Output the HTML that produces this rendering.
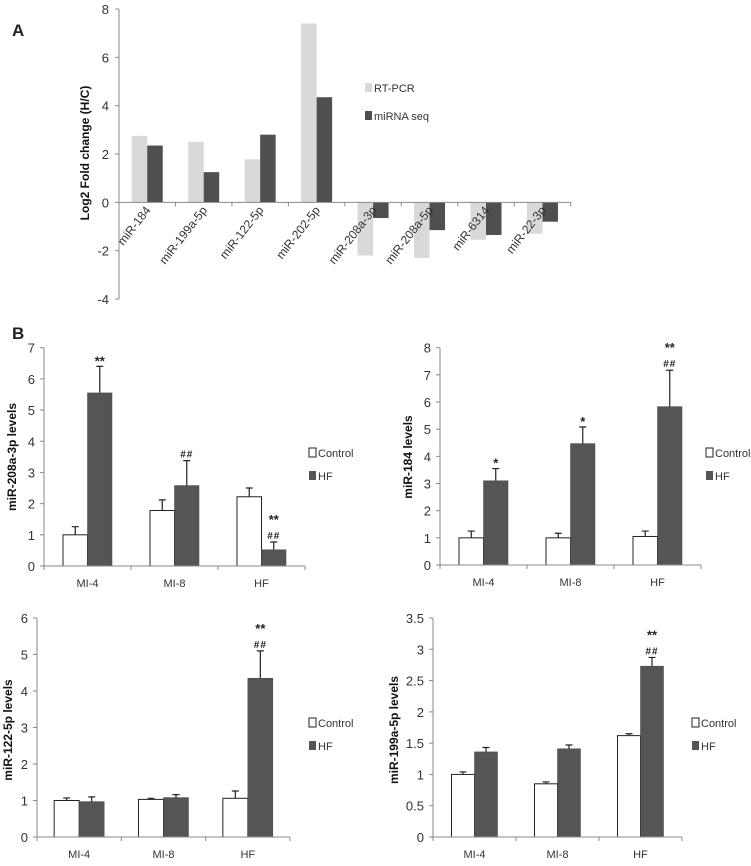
<!DOCTYPE html>
<html><head><meta charset="utf-8"><style>
html,body{margin:0;padding:0;background:#fff}
svg text{font-family:"Liberation Sans",sans-serif}
</style></head><body>
<svg id="fig" width="751" height="861" viewBox="0 0 751 861" xmlns="http://www.w3.org/2000/svg"></svg>
<script>
// Panel A data
const aCategories = ["miR-184","miR-199a-5p","miR-122-5p","miR-202-5p","miR-208a-3p","miR-208a-5p","miR-6314","miR-22-3p"];
const aRtpcr = [2.75, 2.5, 1.78, 7.4, -2.2, -2.3, -1.55, -1.3];
const aSeq = [2.35, 1.25, 2.8, 4.35, -0.65, -1.15, -1.35, -0.8];
const aTicks = [8, 6, 4, 2, 0, -2, -4];

// Panel B data
const bCategories = ["MI-4","MI-8","HF"];
const b1Control = [1.0, 1.78, 2.22];
const b1ControlErr = [0.26, 0.34, 0.28];
const b1HF = [5.55, 2.58, 0.52];
const b1HFErr = [0.85, 0.8, 0.25];
const b1Ticks = [0,1,2,3,4,5,6,7];
const b1Notes = [["**"],["##"],["**","##"]];

const b2Control = [1.0, 1.0, 1.05];
const b2ControlErr = [0.25, 0.17, 0.2];
const b2HF = [3.1, 4.47, 5.83];
const b2HFErr = [0.45, 0.61, 1.34];
const b2Ticks = [0,1,2,3,4,5,6,7,8];
const b2Notes = [["*"],["*"],["**","##"]];

const b3Control = [1.0, 1.03, 1.06];
const b3ControlErr = [0.07, 0.03, 0.2];
const b3HF = [0.97, 1.08, 4.35];
const b3HFErr = [0.13, 0.08, 0.75];
const b3Ticks = [0,1,2,3,4,5,6];
const b3Notes = [[],[],["**","##"]];

const b4Control = [1.0, 0.85, 1.62];
const b4ControlErr = [0.04, 0.03, 0.03];
const b4HF = [1.36, 1.41, 2.73];
const b4HFErr = [0.07, 0.06, 0.14];
const b4Ticks = [0,0.5,1,1.5,2,2.5,3,3.5];
const b4Notes = [[],[],["**","##"]];

const svg = document.getElementById('fig');
const NS = "http://www.w3.org/2000/svg";
function mk(tag, attrs, parent, text){
  const e = document.createElementNS(NS, tag);
  for (const k in attrs) e.setAttribute(k, attrs[k]);
  if (text !== undefined) e.textContent = text;
  (parent||svg).appendChild(e);
  return e;
}
const AX = "#8a8a8a";

// ---------- Panel A ----------
(function(){
  const g = mk('g', {});
  
  
  const x0 = 119, x1 = 570.7, yMax = 8, yMin = -4, pTop = 9, pBot = 299;
  const y = v => pTop + (yMax - v) * (pBot - pTop) / (yMax - yMin);
  const band = (x1 - x0) / aCategories.length;
  const bw = 15.5, pad = (band - 2*bw)/2;
  const lab = mk('text', {x:12, y:36, 'font-size':17, 'font-weight':'bold', fill:'#222'}, g, 'A');
  
  
  aCategories.forEach((c, i) => {
    const bx = x0 + i*band + pad;
    const v1 = aRtpcr[i], v2 = aSeq[i];
    const r1 = mk('rect', {x:bx, y:Math.min(y(v1), y(0)), width:bw, height:Math.abs(y(v1)-y(0)), fill:'#d9d9d9'}, g);
    
    
    const r2 = mk('rect', {x:bx+bw, y:Math.min(y(v2), y(0)), width:bw, height:Math.abs(y(v2)-y(0)), fill:'#4f4f4f'}, g);
    
    
  });
  const ya = mk('line', {x1:x0, y1:pTop, x2:x0, y2:pBot, stroke:AX, 'stroke-width':1}, g);
  
  
  aTicks.forEach(t => {
    mk('line', {x1:x0-4, y1:y(t), x2:x0, y2:y(t), stroke:AX}, g);
    const tl = mk('text', {x:x0-10, y:y(t)+5, 'font-size':13, 'text-anchor':'end', fill:'#333'}, g, String(t));
    
    
  });
  const xa = mk('line', {x1:x0, y1:y(0), x2:x1, y2:y(0), stroke:AX}, g);
  
  
  for (let i=0;i<=aCategories.length;i++){
    mk('line', {x1:x0+i*band, y1:y(0), x2:x0+i*band, y2:y(0)+4, stroke:AX}, g);
  }
  aCategories.forEach((c, i) => {
    const cx = x0 + i*band + band/2 + 4, cy = y(0) + 8;
    const t = mk('text', {x:cx, y:cy, 'font-size':12, 'text-anchor':'end', fill:'#333', transform:`rotate(-52 ${cx} ${cy})`}, g, c);
    
    
  });
  const yt = mk('text', {x:0, y:0, 'font-size':12, 'font-weight':'bold', 'text-anchor':'middle', fill:'#111', transform:'translate(89 153) rotate(-90)'}, g, 'Log2 Fold change (H/C)');
  
  
  const l1 = mk('rect', {x:365, y:83, width:7, height:9, fill:'#d9d9d9'}, g);
  
  
  const lt1 = mk('text', {x:374, y:92, 'font-size':11, fill:'#333'}, g, 'RT-PCR');
  
  
  const l2 = mk('rect', {x:365, y:111, width:7, height:9, fill:'#4f4f4f'}, g);
  
  
  const lt2 = mk('text', {x:374, y:120, 'font-size':11, fill:'#333'}, g, 'miRNA seq');
  
  
})();

// ---------- Panel B charts ----------
function drawB(cfg){
  const g = mk('g', {});
  
  
  const maxT = cfg.ticks[cfg.ticks.length-1];
  const y = v => cfg.yZero - v * (cfg.yZero - cfg.yTop) / maxT;
  const band = (cfg.x1 - cfg.x0) / bCategories.length;
  const bw = cfg.bw, pad = (band - 2*bw)/2;
  bCategories.forEach((c, i) => {
    const bx = cfg.x0 + i*band + pad;
    const vc = cfg.control[i], vh = cfg.hf[i];
    const ec = mk('path', {d:`M${bx+bw/2} ${y(vc)} V${y(vc+cfg.controlErr[i])} M${bx+bw/2-3.5} ${y(vc+cfg.controlErr[i])} H${bx+bw/2+3.5}`, stroke:'#222', 'stroke-width':1.2, fill:'none'}, g);
    
    
    const eh = mk('path', {d:`M${bx+1.5*bw} ${y(vh)} V${y(vh+cfg.hfErr[i])} M${bx+1.5*bw-3.5} ${y(vh+cfg.hfErr[i])} H${bx+1.5*bw+3.5}`, stroke:'#222', 'stroke-width':1.2, fill:'none'}, g);
    
    
    const rc = mk('rect', {x:bx, y:y(vc), width:bw, height:y(0)-y(vc), fill:'#fff', stroke:'#222', 'stroke-width':1}, g);
    
    
    const rh = mk('rect', {x:bx+bw, y:y(vh), width:bw, height:y(0)-y(vh), fill:'#555', stroke:'#444', 'stroke-width':0.5}, g);
    
    
    const top = y(vh + cfg.hfErr[i]);
    cfg.notes[i].forEach((n, k, arr) => {
      const off = (arr.length - k) * 17 - 4;
      const isHash = n.indexOf('#') >= 0;
      const t = mk('text', {x:bx+1.5*bw, y:top - off + (isHash?10:12), 'font-size':isHash?10:13, 'font-weight':'bold', 'text-anchor':'middle', fill:'#222', 'letter-spacing':isHash?1:0}, g, n);
      
      
    });
  });
  const ya = mk('line', {x1:cfg.x0, y1:cfg.yTop, x2:cfg.x0, y2:y(0), stroke:AX}, g);
  
  
  cfg.ticks.forEach(t => {
    mk('line', {x1:cfg.x0-4, y1:y(t), x2:cfg.x0, y2:y(t), stroke:AX}, g);
    const tl = mk('text', {x:cfg.x0-9, y:y(t)+5, 'font-size':13, 'text-anchor':'end', fill:'#333'}, g, String(t));
    
    
  });
  const xa = mk('line', {x1:cfg.x0, y1:y(0), x2:cfg.x1, y2:y(0), stroke:AX}, g);
  
  
  for (let i=0;i<=bCategories.length;i++) mk('line', {x1:cfg.x0+i*band, y1:y(0), x2:cfg.x0+i*band, y2:y(0)+4, stroke:AX}, g);
  bCategories.forEach((c, i) => {
    const t = mk('text', {x:cfg.x0+i*band+band/2, y:y(0)+21, 'font-size':11, 'text-anchor':'middle', fill:'#333'}, g, c);
    
    
  });
  const yt = mk('text', {x:0, y:0, 'font-size':12, 'font-weight':'bold', 'text-anchor':'middle', fill:'#111', transform:`translate(${cfg.titleX} ${cfg.titleY}) rotate(-90)`}, g, cfg.title);
  
  
  const lc = mk('rect', {x:cfg.legX, y:cfg.legY-5, width:7, height:9, fill:'#fff', stroke:'#222'}, g);
  
  
  const ltc = mk('text', {x:cfg.legX+9, y:cfg.legY+4, 'font-size':11, fill:'#333'}, g, 'Control');
  
  
  const lh = mk('rect', {x:cfg.legX, y:cfg.legY+18, width:7, height:9, fill:'#555'}, g);
  
  
  const lth = mk('text', {x:cfg.legX+9, y:cfg.legY+27, 'font-size':11, fill:'#333'}, g, 'HF');
  
  
}

const bl = mk('text', {x:12, y:339, 'font-size':17, 'font-weight':'bold', fill:'#222'}, svg, 'B');



drawB({name:'chart-mir-208a-3p', x0:44, x1:305, yTop:347.7, yZero:566, bw:24.5, ticks:b1Ticks,
  control:b1Control, controlErr:b1ControlErr, hf:b1HF, hfErr:b1HFErr, notes:b1Notes,
  title:'miR-208a-3p levels', titleX:16, titleY:457, legX:309, legY:453});
drawB({name:'chart-mir-184', x0:440, x1:701, yTop:347.7, yZero:565, bw:24.5, ticks:b2Ticks,
  control:b2Control, controlErr:b2ControlErr, hf:b2HF, hfErr:b2HFErr, notes:b2Notes,
  title:'miR-184 levels', titleX:412, titleY:457, legX:706, legY:453});
drawB({name:'chart-mir-122-5p', x0:37, x1:290, yTop:618, yZero:837, bw:25, ticks:b3Ticks,
  control:b3Control, controlErr:b3ControlErr, hf:b3HF, hfErr:b3HFErr, notes:b3Notes,
  title:'miR-122-5p levels', titleX:12, titleY:730, legX:309, legY:723});
drawB({name:'chart-mir-199a-5p', x0:433, x1:682, yTop:618, yZero:837, bw:23, ticks:b4Ticks,
  control:b4Control, controlErr:b4ControlErr, hf:b4HF, hfErr:b4HFErr, notes:b4Notes,
  title:'miR-199a-5p levels', titleX:398, titleY:730, legX:692, legY:723});
</script>
</body></html>
